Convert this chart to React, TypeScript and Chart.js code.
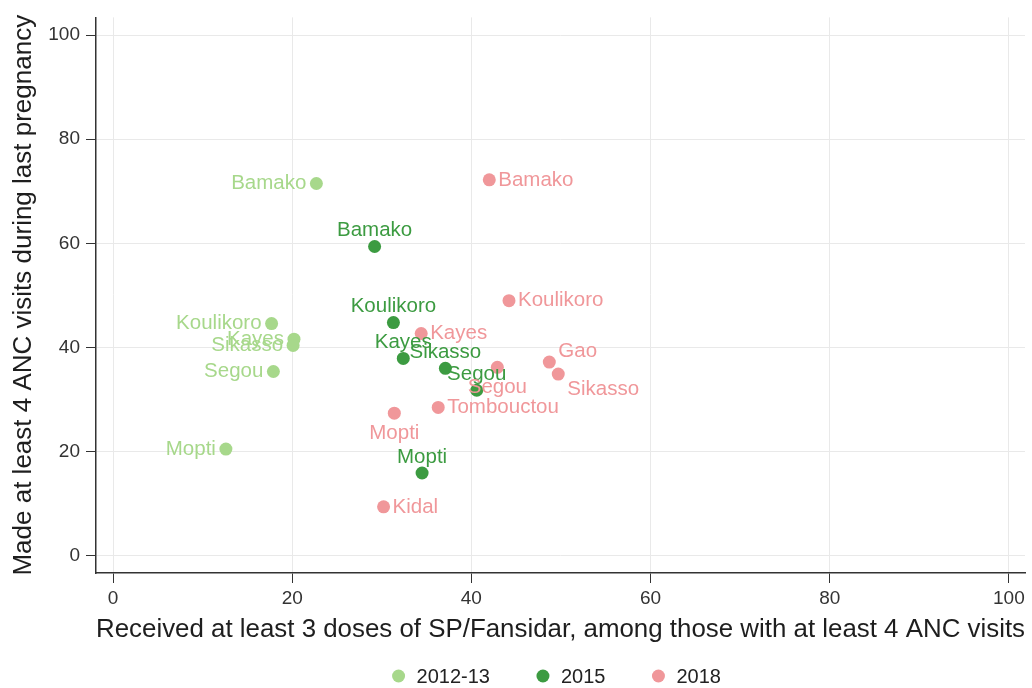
import { useEffect, useRef } from "react";
import { Chart, registerables } from "chart.js";

Chart.register(...registerables);

// Axis ticks
const xTicks = [0, 20, 40, 60, 80, 100];
const yTicks = [0, 20, 40, 60, 80, 100];

// Survey years (legend labels)
const years = ["2012-13", "2015", "2018"];

// 2012-13 survey
const regions2012 = ["Bamako", "Koulikoro", "Kayes", "Sikasso", "Segou", "Mopti"];
const sp2012 = [22.7, 17.7, 20.2, 20.1, 17.9, 12.6];
const anc2012 = [71.5, 44.6, 41.6, 40.4, 35.4, 20.5];

// 2015 survey
const regions2015 = ["Bamako", "Koulikoro", "Kayes", "Sikasso", "Segou", "Mopti"];
const sp2015 = [29.2, 31.3, 32.4, 37.1, 40.6, 34.5];
const anc2015 = [59.4, 44.8, 37.9, 36.0, 31.8, 15.9];

// 2018 survey
const regions2018 = ["Bamako", "Koulikoro", "Kayes", "Gao", "Sikasso", "Segou", "Tombouctou", "Mopti", "Kidal"];
const sp2018 = [42.0, 44.2, 34.4, 48.7, 49.7, 42.9, 36.3, 31.4, 30.2];
const anc2018 = [72.2, 49.0, 42.7, 37.2, 34.9, 36.2, 28.5, 27.4, 9.4];

// Clock position of each region label relative to its marker
const clock2012 = [9, 9, 9, 9, 9, 9];
const clock2015 = [12, 12, 12, 12, 12, 12];
const clock2018 = [3, 3, 3, 2, 4, 6, 3, 6, 3];

const colors = ["#a7d88b", "#3c9b41", "#f0979a"];
const FONT = '"Liberation Sans", Arial, Helvetica, sans-serif';

const toPoints = (xs: number[], ys: number[]) => xs.map((x, i) => ({ x, y: ys[i] }));

const regionLabels: { names: string[]; clock: number[] }[] = [
  { names: regions2012, clock: clock2012 },
  { names: regions2015, clock: clock2015 },
  { names: regions2018, clock: clock2018 },
];

const markerLabelPlugin = {
  id: "markerLabels",
  afterDatasetsDraw(chart: any) {
    const ctx = chart.ctx;
    ctx.save();
    ctx.font = `20.5px ${FONT}`;
    ctx.textBaseline = "middle";
    chart.data.datasets.forEach((ds: any, di: number) => {
      const meta = chart.getDatasetMeta(di);
      const { names, clock } = regionLabels[di];
      ctx.fillStyle = ds.backgroundColor;
      meta.data.forEach((el: any, i: number) => {
        const { x, y } = el.getProps(["x", "y"], true);
        let tx = x, ty = y, align: CanvasTextAlign = "center";
        switch (clock[i]) {
          case 9: tx = x - 10; align = "right"; break;
          case 3: tx = x + 9; align = "left"; break;
          case 12: ty = y - 16; break;
          case 6: ty = y + 20; break;
          case 2: tx = x + 9; ty = y - 11; align = "left"; break;
          case 4: tx = x + 9; ty = y + 15; align = "left"; break;
        }
        ctx.textAlign = align;
        ctx.fillText(names[i], tx, ty);
      });
    });
    ctx.restore();
  },
};

const bottomLegendPlugin = {
  id: "bottomLegend",
  afterDraw(chart: any) {
    const ctx = chart.ctx;
    ctx.save();
    ctx.font = `20px ${FONT}`;
    ctx.textBaseline = "middle";
    ctx.textAlign = "left";
    const r = 6.5, textGap = 18, spacing = 53;
    const items = chart.data.datasets.map((ds: any) => ({
      label: ds.label,
      color: ds.backgroundColor,
      tw: ctx.measureText(ds.label).width,
    }));
    const total = r + items.reduce((s: number, it: any) => s + textGap + it.tw, 0) + spacing * (items.length - 1);
    const center = (chart.chartArea.left + chart.chartArea.right) / 2 - 4;
    let x = center - total / 2 + r;
    const y = 676;
    items.forEach((it: any) => {
      ctx.fillStyle = it.color;
      ctx.beginPath();
      ctx.arc(x, y, r, 0, Math.PI * 2);
      ctx.fill();
      ctx.fillStyle = "#222";
      ctx.fillText(it.label, x + textGap, y + 1);
      x += textGap + it.tw + spacing;
    });
    ctx.restore();
  },
};

export default function App() {
  const ref = useRef<HTMLCanvasElement>(null);

  useEffect(() => {
    if (!ref.current) return;
    const chart = new Chart(ref.current, {
      type: "scatter",
      data: {
        datasets: [
          { label: years[0], data: toPoints(sp2012, anc2012), backgroundColor: colors[0] },
          { label: years[1], data: toPoints(sp2015, anc2015), backgroundColor: colors[1] },
          { label: years[2], data: toPoints(sp2018, anc2018), backgroundColor: colors[2] },
        ].map((d) => ({ ...d, pointRadius: 6.5, pointBorderWidth: 0, borderColor: d.backgroundColor })),
      },
      options: {
        animation: false,
        responsive: false,
        layout: { padding: { top: 16, right: 7, left: 0, bottom: 0 } },
        plugins: { legend: { display: false }, tooltip: { enabled: false } },
        scales: {
          x: {
            type: "linear",
            min: -1.9,
            max: 101.8,
            afterBuildTicks: (s: any) => { s.ticks = xTicks.map((v) => ({ value: v })); },
            afterFit: (s: any) => { s.height = 115; },
            grid: { color: "#e9e9e9", tickColor: "#333", tickLength: 10, lineWidth: 1 },
            border: { color: "#333", width: 1.5 },
            ticks: { color: "#333", font: { family: FONT, size: 19 }, padding: 4, maxRotation: 0 },
            title: {
              display: true,
              text: "Received at least 3 doses of SP/Fansidar, among those with at least 4 ANC visits",
              color: "#1e1e1e",
              font: { family: FONT, size: 26.2 },
              padding: { top: 0, bottom: 43 },
            },
          },
          y: {
            type: "linear",
            min: -3.3,
            max: 103.4,
            afterBuildTicks: (s: any) => { s.ticks = yTicks.map((v) => ({ value: v })); },
            afterFit: (s: any) => { s.width = 96; },
            grid: { color: "#e9e9e9", tickColor: "#333", tickLength: 10, lineWidth: 1 },
            border: { color: "#333", width: 1.5 },
            ticks: { color: "#333", font: { family: FONT, size: 19 }, padding: 6 },
            title: {
              display: true,
              text: "Made at least 4 ANC visits during last pregnancy",
              color: "#1e1e1e",
              font: { family: FONT, size: 26 },
              padding: { top: 8, bottom: 0 },
            },
          },
        },
      },
      plugins: [markerLabelPlugin, bottomLegendPlugin],
    });
    return () => chart.destroy();
  }, []);

  return (
    <div style={{ position: "fixed", left: 0, top: 0, width: 1032, height: 688, background: "#fff" }}>
      <canvas ref={ref} width={1032} height={688} />
    </div>
  );
}
